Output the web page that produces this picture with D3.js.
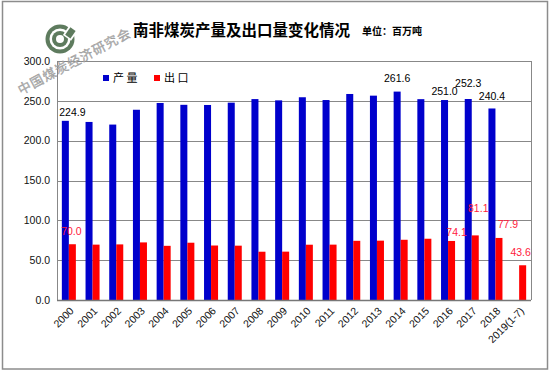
<!DOCTYPE html>
<html lang="zh">
<head>
<meta charset="UTF-8">
<script src="https://cdnjs.cloudflare.com/ajax/libs/d3/7.8.5/d3.min.js"></script>
<style>
  body { margin: 0; background: #fff; }
  svg text { font-family: "Liberation Sans", Arial, sans-serif; }
  .cjk { font-family: "Noto Sans CJK SC", sans-serif; }
</style>
</head>
<body>
<div id="chart"></div>
<script>
// ---- data ----
const years = ["2000","2001","2002","2003","2004","2005","2006","2007","2008","2009",
               "2010","2011","2012","2013","2014","2015","2016","2017","2018","2019(1-7)"];
const production = [224.9,223.5,220.2,238.8,247.3,245.0,244.8,247.7,252.2,250.6,
                    254.5,251.0,258.6,256.5,261.6,252.1,251.0,252.3,240.4,null];
const exports = [70.0,69.5,69.8,72.3,68.0,71.9,68.4,68.2,60.6,60.7,
                 69.4,69.5,74.3,74.5,75.6,76.9,74.1,81.1,77.9,43.6];
const yTicks = [0,50,100,150,200,250,300];
const seriesNames = ["产 量","出 口"];
const prodLabelYears = ["2000","2014","2016","2017","2018"];
const expLabelYears = ["2000","2016","2017","2018","2019(1-7)"];

// ---- layout ----
const W = 552, H = 372;
const plot = {left: 57, right: 531, top: 61, bottom: 300};
const colors = {prod: "#0000CC", exp: "#FF0000"};

const svg = d3.select("#chart").append("svg")
    .attr("width", W).attr("height", H);

// outer frame
svg.append("rect")
    .attr("x", 2.5).attr("y", 1.5).attr("width", 545).attr("height", 367.5)
    .attr("fill", "#fff").attr("stroke", "#8c8c8c").attr("stroke-width", 1.5);

const x0 = d3.scaleBand().domain(years).range([plot.left, plot.right]).padding(0);
const x1 = d3.scaleBand().domain(["prod","exp"]).range([0, x0.bandwidth()])
    .paddingInner(0).paddingOuter(0.69);
const y = d3.scaleLinear().domain([0, 300]).range([plot.bottom, plot.top]);

// gridlines
svg.append("g").selectAll("line")
    .data(yTicks.filter(d => d > 0))
    .join("line")
    .attr("x1", plot.left).attr("x2", plot.right)
    .attr("y1", d => Math.round(y(d)) + 0.5).attr("y2", d => Math.round(y(d)) + 0.5)
    .attr("stroke", "#888").attr("stroke-width", 1);

// plot frame (left / right)
svg.append("line").attr("x1", plot.left + 0.5).attr("x2", plot.left + 0.5)
    .attr("y1", plot.top).attr("y2", plot.bottom).attr("stroke", "#888");
svg.append("line").attr("x1", plot.right + 0.5).attr("x2", plot.right + 0.5)
    .attr("y1", plot.top).attr("y2", plot.bottom).attr("stroke", "#888");

// y tick labels
svg.append("g").selectAll("text")
    .data(yTicks)
    .join("text")
    .attr("x", 50).attr("y", d => y(d))
    .attr("dy", "0.35em")
    .attr("text-anchor", "end")
    .attr("font-size", 10.5)
    .attr("fill", "#111")
    .text(d => d3.format(".1f")(d));

// bars
const barsG = svg.append("g");
barsG.selectAll("rect.prod")
    .data(years.map((yr, i) => ({yr, v: production[i]})).filter(d => d.v != null))
    .join("rect")
    .attr("class", "prod")
    .attr("x", d => x0(d.yr) + x1("prod"))
    .attr("width", x1.bandwidth())
    .attr("y", d => y(d.v))
    .attr("height", d => y(0) - y(d.v))
    .attr("fill", colors.prod);
barsG.selectAll("rect.exp")
    .data(years.map((yr, i) => ({yr, v: exports[i]})))
    .join("rect")
    .attr("class", "exp")
    .attr("x", d => x0(d.yr) + x1("exp"))
    .attr("width", x1.bandwidth())
    .attr("y", d => y(d.v))
    .attr("height", d => y(0) - y(d.v))
    .attr("fill", colors.exp);

// x axis line
svg.append("line").attr("x1", plot.left).attr("x2", plot.right)
    .attr("y1", plot.bottom + 0.5).attr("y2", plot.bottom + 0.5)
    .attr("stroke", "#777").attr("stroke-width", 1.5);

// x tick labels, rotated
svg.append("g").selectAll("text")
    .data(years)
    .join("text")
    .attr("transform", d => `translate(${x0(d) + x0.bandwidth() / 2 + 3},${plot.bottom + 9}) rotate(-45)`)
    .attr("text-anchor", "end")
    .attr("dy", "0.35em")
    .attr("font-size", 10.5)
    .attr("fill", "#111")
    .text(d => d);

// data labels (manually nudged like the original)
const prodOffsets = {"2000": [7, -9], "2014": [0, -13], "2016": [0, -9], "2017": [0, -16], "2018": [0, -12]};
const expOffsets = {"2000": [-1, -13], "2016": [5, -9], "2017": [3, -27], "2018": [9, -14], "2019(1-7)": [-2, -13]};
svg.append("g").selectAll("text")
    .data(prodLabelYears)
    .join("text")
    .attr("x", d => x0(d) + x1("prod") + x1.bandwidth() / 2 + prodOffsets[d][0])
    .attr("y", d => y(production[years.indexOf(d)]) + prodOffsets[d][1])
    .attr("dy", "0.35em")
    .attr("text-anchor", "middle")
    .attr("font-size", 10.5)
    .attr("fill", "#000")
    .text(d => d3.format(".1f")(production[years.indexOf(d)]));
svg.append("g").selectAll("text")
    .data(expLabelYears)
    .join("text")
    .attr("x", d => x0(d) + x1("exp") + x1.bandwidth() / 2 + expOffsets[d][0])
    .attr("y", d => y(exports[years.indexOf(d)]) + expOffsets[d][1])
    .attr("dy", "0.35em")
    .attr("text-anchor", "middle")
    .attr("font-size", 10.5)
    .attr("fill", "#FF1A3C")
    .text(d => d3.format(".1f")(exports[years.indexOf(d)]));

// legend
const legend = svg.append("g");
[["prod", 103], ["exp", 154]].forEach(([k, lx], i) => {
  legend.append("rect").attr("x", lx).attr("y", 75).attr("width", 6).attr("height", 6)
      .attr("fill", colors[k]);
  legend.append("text").attr("class", "cjk")
      .attr("x", lx + 10).attr("y", 78).attr("dy", "0.35em")
      .attr("font-size", 11).attr("fill", "#000")
      .text(seriesNames[i]);
});

// title
svg.append("text").attr("class", "cjk")
    .attr("x", 133).attr("y", 36)
    .attr("font-size", 15.5).attr("font-weight", "bold").attr("fill", "#000")
    .text("南非煤炭产量及出口量变化情况");
svg.append("text").attr("class", "cjk")
    .attr("x", 362).attr("y", 35)
    .attr("font-size", 10).attr("font-weight", "bold").attr("fill", "#000")
    .text("单位：百万吨");

// logo + watermark
const logo = svg.append("g").attr("transform", "translate(60,39)");
logo.append("circle").attr("r", 14.5).attr("fill", "#5e7b5e");
logo.append("circle").attr("r", 10.5).attr("fill", "#fff");
logo.append("circle").attr("r", 8).attr("fill", "#5e7b5e");
logo.append("circle").attr("r", 4).attr("fill", "#fff");
logo.append("rect").attr("x", 0).attr("y", -17).attr("width", 10).attr("height", 12)
    .attr("transform", "rotate(35)").attr("fill", "#fff");
logo.append("rect").attr("x", 1.8).attr("y", -15.5).attr("width", 6.4).attr("height", 9)
    .attr("transform", "rotate(35)").attr("fill", "#5e7b5e");

svg.append("text").attr("class", "cjk")
    .attr("transform", "translate(21,95) rotate(-28)")
    .attr("font-size", 13)
    .attr("letter-spacing", 1)
    .attr("fill", "#b4b4b4").attr("stroke", "#8a8a8a").attr("stroke-width", 0.3)
    .text("中国煤炭经济研究会");
</script>
</body>
</html>
